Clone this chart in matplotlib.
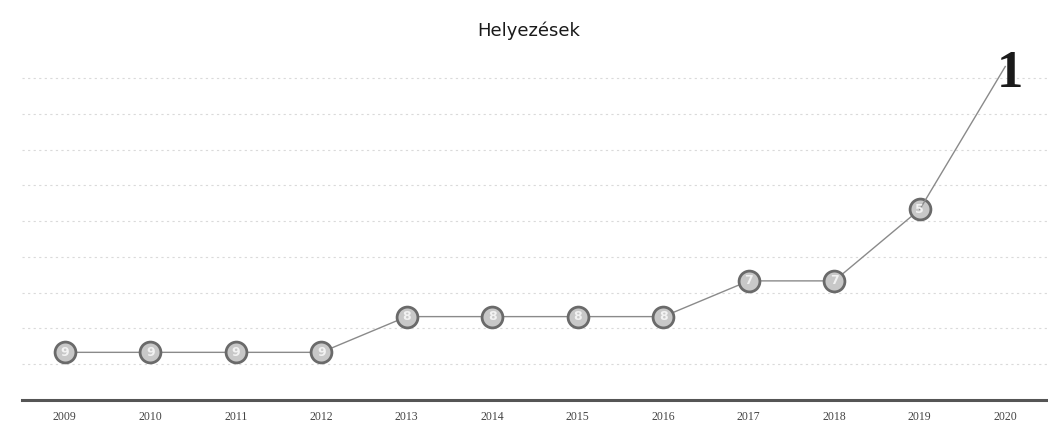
import matplotlib
import matplotlib.pyplot as plt

matplotlib.use("agg")

years = ["2009", "2010", "2011", "2012", "2013", "2014",
         "2015", "2016", "2017", "2018", "2019", "2020"]
ranks = [9, 9, 9, 9, 8, 8, 8, 8, 7, 7, 5, 1]

fig = plt.figure(figsize=(10.48, 4.37), dpi=100)
ax = fig.add_axes([0.021, 0.085, 0.979, 0.82])

x = list(range(len(years)))
ax.plot(x[:-1], ranks[:-1], color="#8a8a8a", lw=1.0, zorder=2,
        marker="o", markersize=15, markerfacecolor="#c8c8c8",
        markeredgecolor="#6a6a6a", markeredgewidth=2.0)
ax.plot(x[-2:], ranks[-2:], color="#8a8a8a", lw=1.0, zorder=2)

# labels inside markers
for xi, r in zip(x[:-1], ranks[:-1]):
    ax.text(xi, r, str(r), ha="center", va="center", fontsize=9,
            color="#f2f2f2", fontweight="bold", zorder=3)

# big label for the final place
ax.text(x[-1] + 0.05, ranks[-1] + 0.2, str(ranks[-1]), ha="center",
        va="center", fontsize=38, fontweight="bold",
        family="Liberation Serif", color="#1a1a1a", zorder=3)

ax.set_xlim(-0.5, len(years) - 0.5)
ax.set_ylim(10.33, 0.3)
ax.set_yticks([i + 0.33 for i in range(1, 10)])
ax.grid(axis="y", color="#dadada", lw=0.8, ls=(0, (2, 3)))
ax.tick_params(axis="y", left=False, labelleft=False)

ax.set_xticks(x)
ax.set_xticklabels(years, family="Liberation Serif", fontsize=8.5,
                   color="#444444")
ax.tick_params(axis="x", length=0, pad=8)

for side in ["top", "right", "left"]:
    ax.spines[side].set_visible(False)
ax.spines["bottom"].set_color("#555555")
ax.spines["bottom"].set_linewidth(2.2)

fig.text(0.504, 0.93, "Helyezések", ha="center", va="center",
         fontsize=13, color="#1a1a1a")

fig.savefig("out.png", dpi=100)
